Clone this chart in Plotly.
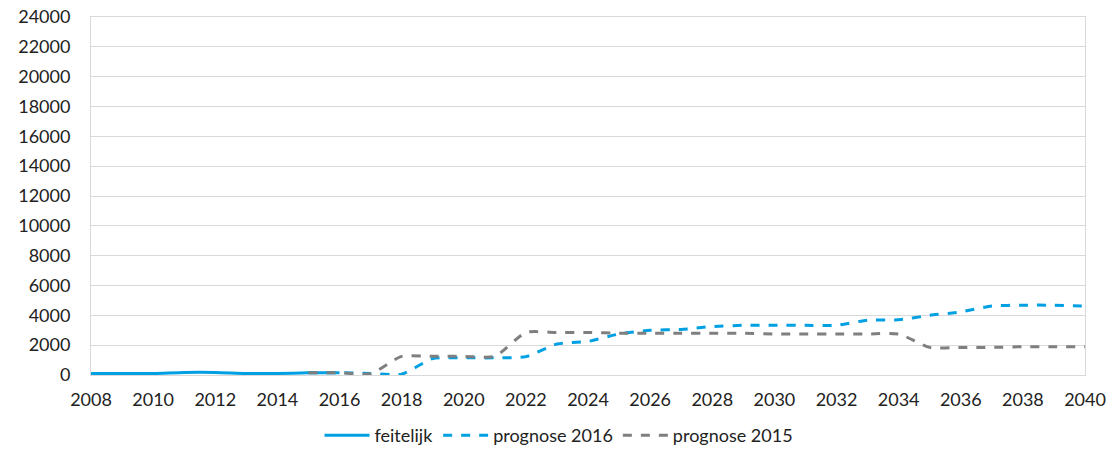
import plotly.graph_objects as go

# Observed values and two forecast scenarios per year
years_actual = list(range(2008, 2017))
actual = [100, 100, 100, 170, 170, 100, 100, 150, 150]

years_2016 = list(range(2015, 2041))
forecast_2016 = [150, 150, 100, 50, 1100, 1150, 1150, 1230, 2080, 2250, 2750, 3000,
                 3050, 3250, 3330, 3330, 3330, 3330, 3680, 3700, 4000, 4230, 4620,
                 4680, 4680, 4620]

years_2015 = list(range(2015, 2041))
forecast_2015 = [150, 150, 80, 1250, 1250, 1250, 1250, 2850, 2850, 2850, 2800, 2800,
                 2800, 2800, 2800, 2750, 2750, 2750, 2750, 2750, 1850, 1850, 1850,
                 1900, 1900, 1900]

x_ticks = list(range(2008, 2041, 2))
y_ticks = list(range(0, 24001, 2000))

BLUE = "#00a0e3"
GREY = "#7f7f7f"
FONT = "Lato, 'Open Sans', sans-serif"

fig = go.Figure()
fig.add_trace(go.Scatter(x=years_actual, y=actual, name="feitelijk", mode="lines",
                         line=dict(color=BLUE, width=3, shape="spline", smoothing=0.6)))
fig.add_trace(go.Scatter(x=years_2016, y=forecast_2016, name="prognose 2016", mode="lines",
                         line=dict(color=BLUE, width=3, dash="dash", shape="spline", smoothing=0.6)))
fig.add_trace(go.Scatter(x=years_2015, y=forecast_2015, name="prognose 2015", mode="lines",
                         line=dict(color=GREY, width=3, dash="dash", shape="spline", smoothing=0.6)))

fig.update_layout(
    width=1118, height=450,
    margin=dict(l=91, r=33, t=17, b=75, autoexpand=False),
    paper_bgcolor="white", plot_bgcolor="white",
    font=dict(family=FONT, size=18, color="#222222"),
    showlegend=True,
    legend=dict(orientation="h", x=0.5, xanchor="center", xref="container",
                y=0.032, yanchor="middle", yref="container",
                font=dict(size=18), itemwidth=45),
    xaxis=dict(range=[2008, 2040], tickvals=x_ticks, showgrid=False, zeroline=False,
               showline=True, linecolor="#d9d9d9", linewidth=1, mirror=True,
               ticks="", ticklabelstandoff=8, tickfont=dict(size=18)),
    yaxis=dict(range=[0, 24000], tickvals=y_ticks, tickformat="d",
               showgrid=True, gridcolor="#d9d9d9",
               gridwidth=1, zeroline=False, showline=True, linecolor="#d9d9d9",
               linewidth=1, mirror=True, ticks="", ticklabelstandoff=16,
               tickfont=dict(size=18)),
)

fig.write_html("out.html")
